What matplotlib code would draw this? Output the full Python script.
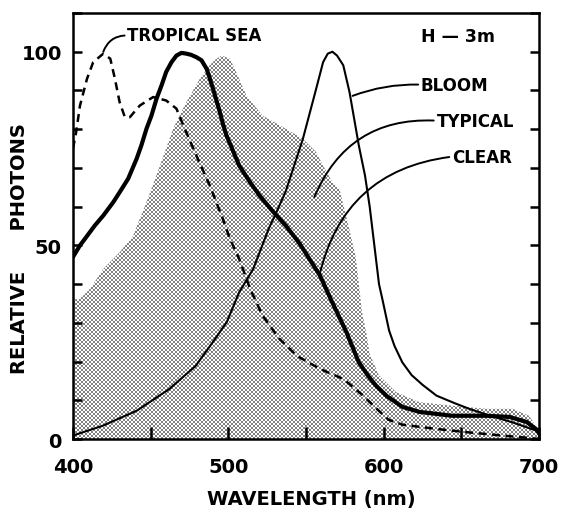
import numpy as np
import matplotlib.pyplot as plt
from matplotlib.ticker import MultipleLocator

# spectra at 3 m depth, relative photons (peak = 100)
clear_wl = [400, 404.5, 407.7, 414, 419.5, 426, 430, 435.5, 441, 444, 447.3, 450.5, 453.8,
            457, 460, 463.4, 466.6, 469.8, 473, 476, 479.4, 482.7, 486, 488, 490, 492.3,
            494.4, 496.5, 498.7, 507, 514, 520, 529, 537, 546, 559, 567, 576, 584,
            590, 595, 602, 612, 623, 644, 666, 681, 692, 698, 700]
clear_val = [47, 50, 51.7, 55.1, 57.7, 61.2, 63.7, 67.2, 72.4, 75.8, 80.1, 83.5, 87.9,
             91.3, 94.8, 97.3, 99, 99.7, 99.5, 99.2, 98.6, 97.8, 95.6, 93.2, 90.6, 87.5,
             84.6, 81.4, 78.5, 70.6, 66.3, 62.9, 58.6, 55.1, 50.4, 42.2, 35.2, 27.6, 19.8,
             16.3, 13.8, 11.1, 8.3, 7, 6, 6, 5.7, 4.4, 2.6, 1.5]

bloom_wl = [400, 419, 441, 462, 479, 490, 499, 507, 516, 526, 531, 537, 548, 556, 561,
            564, 567, 570, 574, 578, 584, 588, 591, 594, 597, 599.5, 603.5, 607, 612, 618,
            625, 634, 646, 655, 667, 683, 698, 700]
bloom_val = [0.9, 3.4, 7.3, 12.9, 18.9, 25, 30.2, 37.9, 43.9, 54.3, 58.6, 64, 77.5, 89.6, 97.3,
             99.5, 100, 99, 96.5, 89.6, 75.8, 68, 60, 50, 40, 35.5, 28, 24, 19.8, 16.5,
             14, 11.2, 9.2, 7.8, 6.2, 4.3, 2.2, 1.8]

tropical_wl = [400, 402, 404.5, 409, 413, 419.5, 424, 427, 430, 433.4, 436.6, 443, 451.6, 460,
               466.6, 471, 479.4, 488, 496.5, 501, 507, 514, 522, 533, 544, 559, 574, 586,
               595, 603, 612, 634, 655, 676, 693, 700]
tropical_val = [75, 79.2, 86.1, 93, 97.3, 99.5, 98.2, 93, 87, 83.1, 83.1, 86.1, 88.3, 87.4,
                85.3, 81, 73.2, 65.5, 56.8, 51.7, 46.5, 38.8, 31.9, 25.8, 21.5, 18.1, 15.5, 11.5,
                8, 5, 3.7, 2.6, 1.7, 0.9, 0.3, 0]

typical_wl = [400, 404.5, 411, 419.5, 430, 438.7, 447.3, 456, 464.4, 473, 481.6, 488, 492.3,
              495.7, 501, 505, 511.6, 522, 537, 548, 556.5, 561, 567, 571.5, 578, 582, 584.3,
              586, 589, 591, 597, 608, 623, 644, 666, 683, 693.5, 698, 700]
typical_val = [36, 36.2, 38.8, 43.9, 48.2, 52.5, 61.2, 70.6, 80.1, 87, 93, 96.5, 98.2,
               99, 98.2, 94.8, 88.7, 83.5, 80.1, 77.5, 74.1, 70.6, 66.3, 64.6, 54, 47, 39,
               33, 27, 22, 16.4, 12.1, 9.5, 8.6, 7.8, 7.8, 6, 3.4, 2]

plt.rcParams['font.family'] = ['DejaVu Sans']
plt.rcParams['font.weight'] = 'bold'

fig = plt.figure(figsize=(5.63, 5.10), dpi=100)
ax = fig.add_axes([73 / 563, 1 - 440 / 510, 466 / 563, 426 / 510])
ax.set_xlim(400, 700)
ax.set_ylim(0, 110)

# stippled area for the typical water
shade = ax.fill_between(typical_wl, typical_val, 0, facecolor='none', edgecolor='none')
h, w = 426, 466
ii, jj = np.mgrid[0:h, 0:w]
dots = np.where(((ii // 2) + (jj // 2)) % 2 == 0, 0.5, 1.0)
im = ax.imshow(dots, cmap='gray', vmin=0, vmax=1, extent=(400, 700, 0, 110),
               aspect='auto', interpolation='nearest', zorder=1)
im.set_clip_path(shade.get_paths()[0], ax.transData)

ax.plot(bloom_wl, bloom_val, color='black', lw=1.5, zorder=3, solid_joinstyle='round')
ax.plot(clear_wl, clear_val, color='black', lw=3.0, zorder=4, solid_joinstyle='round')
ax.plot(tropical_wl, tropical_val, color='black', lw=1.8, linestyle=(0, (3.2, 2.2)), zorder=3)

lead = dict(arrowstyle='-', lw=1.4, color='black', shrinkA=0, shrinkB=0, relpos=(0, 0.5))
ax.annotate('TROPICAL SEA', xy=(419.5, 100), xytext=(435, 104.2), fontsize=12,
            va='center', ha='left',
            arrowprops=dict(lead, connectionstyle='arc3,rad=0.35'))
ax.annotate('BLOOM', xy=(580, 88.6), xytext=(624, 91.5), fontsize=12,
            va='center', ha='left',
            arrowprops=dict(lead, connectionstyle='arc3,rad=0.1'))
ax.annotate('TYPICAL', xy=(555.4, 62.5), xytext=(634, 82.2), fontsize=12,
            va='center', ha='left',
            arrowprops=dict(lead, connectionstyle='arc3,rad=0.35'))
ax.annotate('CLEAR', xy=(558.6, 42.2), xytext=(644, 72.9), fontsize=12,
            va='center', ha='left',
            arrowprops=dict(lead, connectionstyle='arc3,rad=0.35'))
ax.text(624, 104, 'H \u2014 3m', fontsize=12.5, va='center', ha='left')

ax.xaxis.set_major_locator(MultipleLocator(100))
ax.xaxis.set_minor_locator(MultipleLocator(50))
ax.yaxis.set_major_locator(MultipleLocator(50))
ax.yaxis.set_minor_locator(MultipleLocator(10))
ax.tick_params(axis='x', which='both', direction='in', length=9, width=1.8,
               top=False, labelsize=14, pad=13)
ax.tick_params(axis='y', which='both', direction='in', length=6.5, width=1.8,
               right=True, labelsize=14, pad=8)
for s in ax.spines.values():
    s.set_linewidth(1.8)

fig.text(311 / 563, 1 - 500 / 510, 'WAVELENGTH (nm)', fontsize=14, ha='center', va='center')
fig.text(19.5 / 563, 1 - 249 / 510, 'RELATIVE      PHOTONS', fontsize=14, rotation=90,
         ha='center', va='center')

fig.savefig('out.png', dpi=100)
